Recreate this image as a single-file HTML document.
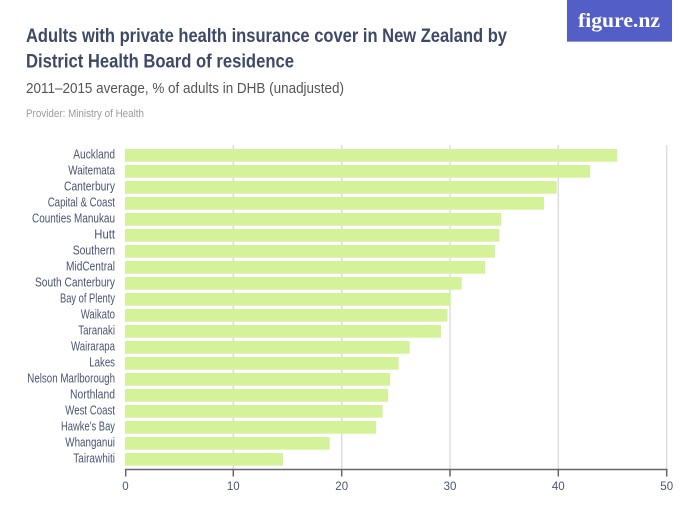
<!DOCTYPE html>
<html>
<head>
<meta charset="utf-8">
<style>
html,body{margin:0;padding:0;background:#fff;}
svg{display:block;}
text{font-family:"Liberation Sans",sans-serif;}
</style>
</head>
<body>
<svg width="700" height="525" viewBox="0 0 700 525" xmlns="http://www.w3.org/2000/svg">
<rect width="700" height="525" fill="#fff"/>
<!-- logo -->
<rect x="567" y="0" width="105" height="42" fill="#535fc6"/>
<rect x="567" y="41" width="105" height="1" fill="#8f98dc"/>
<text x="578" y="27" style="font-family:'Liberation Serif',serif;" font-weight="bold" font-size="20" fill="#fff" textLength="82" lengthAdjust="spacingAndGlyphs">figure.nz</text>
<!-- titles -->
<text x="26" y="42" font-size="19.5" font-weight="bold" fill="#3d4966" textLength="481" lengthAdjust="spacingAndGlyphs">Adults with private health insurance cover in New Zealand by</text>
<text x="26" y="67.5" font-size="19.5" font-weight="bold" fill="#3d4966" textLength="268" lengthAdjust="spacingAndGlyphs">District Health Board of residence</text>
<text x="26" y="93" font-size="14.5" fill="#555" textLength="318" lengthAdjust="spacingAndGlyphs">2011–2015 average, % of adults in DHB (unadjusted)</text>
<text x="26" y="117" font-size="11" fill="#9a9a9a" textLength="118" lengthAdjust="spacingAndGlyphs">Provider: Ministry of Health</text>
<!-- gridlines -->
<g stroke="#dddddd" stroke-width="1.5">
<line x1="233.3" y1="145" x2="233.3" y2="469"/>
<line x1="341.7" y1="145" x2="341.7" y2="469"/>
<line x1="450" y1="145" x2="450" y2="469"/>
<line x1="558.3" y1="145" x2="558.3" y2="469"/>
<line x1="666.7" y1="145" x2="666.7" y2="469"/>
</g>
<!-- bars -->
<g fill="#d4f29a">
<rect x="125" y="149" width="492.3" height="12.7"/>
<rect x="125" y="165" width="465" height="12.7"/>
<rect x="125" y="181" width="431.7" height="12.7"/>
<rect x="125" y="197" width="419" height="12.7"/>
<rect x="125" y="213" width="376.3" height="12.7"/>
<rect x="125" y="229" width="374.3" height="12.7"/>
<rect x="125" y="245" width="370" height="12.7"/>
<rect x="125" y="261" width="360.3" height="12.7"/>
<rect x="125" y="277" width="336.7" height="12.7"/>
<rect x="125" y="293" width="325.7" height="12.7"/>
<rect x="125" y="309" width="322.5" height="12.7"/>
<rect x="125" y="325" width="316" height="12.7"/>
<rect x="125" y="341" width="284.7" height="12.7"/>
<rect x="125" y="357" width="273.7" height="12.7"/>
<rect x="125" y="373" width="265" height="12.7"/>
<rect x="125" y="389" width="263" height="12.7"/>
<rect x="125" y="405" width="257.7" height="12.7"/>
<rect x="125" y="421" width="251" height="12.7"/>
<rect x="125" y="437" width="204.7" height="12.7"/>
<rect x="125" y="453" width="158" height="12.7"/>
</g>
<!-- labels -->
<g font-size="12.5" fill="#4a5573" text-anchor="end">
<text x="115" y="158.7" textLength="41.7" lengthAdjust="spacingAndGlyphs">Auckland</text>
<text x="115" y="174.7" textLength="46.7" lengthAdjust="spacingAndGlyphs">Waitemata</text>
<text x="115" y="190.7" textLength="51" lengthAdjust="spacingAndGlyphs">Canterbury</text>
<text x="115" y="206.7" textLength="67.3" lengthAdjust="spacingAndGlyphs">Capital &amp; Coast</text>
<text x="115" y="222.7" textLength="83" lengthAdjust="spacingAndGlyphs">Counties Manukau</text>
<text x="115" y="238.7" textLength="20.7" lengthAdjust="spacingAndGlyphs">Hutt</text>
<text x="115" y="254.7" textLength="42.3" lengthAdjust="spacingAndGlyphs">Southern</text>
<text x="115" y="270.7" textLength="49" lengthAdjust="spacingAndGlyphs">MidCentral</text>
<text x="115" y="286.7" textLength="80" lengthAdjust="spacingAndGlyphs">South Canterbury</text>
<text x="115" y="302.7" textLength="55" lengthAdjust="spacingAndGlyphs">Bay of Plenty</text>
<text x="115" y="318.7" textLength="34.3" lengthAdjust="spacingAndGlyphs">Waikato</text>
<text x="115" y="334.7" textLength="36.7" lengthAdjust="spacingAndGlyphs">Taranaki</text>
<text x="115" y="350.7" textLength="44" lengthAdjust="spacingAndGlyphs">Wairarapa</text>
<text x="115" y="366.7" textLength="25.7" lengthAdjust="spacingAndGlyphs">Lakes</text>
<text x="115" y="382.7" textLength="87.7" lengthAdjust="spacingAndGlyphs">Nelson Marlborough</text>
<text x="115" y="398.7" textLength="45" lengthAdjust="spacingAndGlyphs">Northland</text>
<text x="115" y="414.7" textLength="49.7" lengthAdjust="spacingAndGlyphs">West Coast</text>
<text x="115" y="430.7" textLength="54" lengthAdjust="spacingAndGlyphs">Hawke's Bay</text>
<text x="115" y="446.7" textLength="49.7" lengthAdjust="spacingAndGlyphs">Whanganui</text>
<text x="115" y="462.7" textLength="41.7" lengthAdjust="spacingAndGlyphs">Tairawhiti</text>
</g>
<!-- axis -->
<g stroke="#666" stroke-width="1.5">
<line x1="125" y1="469.5" x2="667.4" y2="469.5"/>
<line x1="125.7" y1="469" x2="125.7" y2="476.5"/>
<line x1="233.3" y1="469" x2="233.3" y2="476.5"/>
<line x1="341.7" y1="469" x2="341.7" y2="476.5"/>
<line x1="450" y1="469" x2="450" y2="476.5"/>
<line x1="558.3" y1="469" x2="558.3" y2="476.5"/>
<line x1="666.7" y1="469" x2="666.7" y2="476.5"/>
</g>
<g font-size="11.5" fill="#4a5573" text-anchor="middle">
<text x="125.5" y="490">0</text>
<text x="233.3" y="490">10</text>
<text x="341.7" y="490">20</text>
<text x="450" y="490">30</text>
<text x="558.3" y="490">40</text>
<text x="666.7" y="490">50</text>
</g>
</svg>
</body>
</html>
